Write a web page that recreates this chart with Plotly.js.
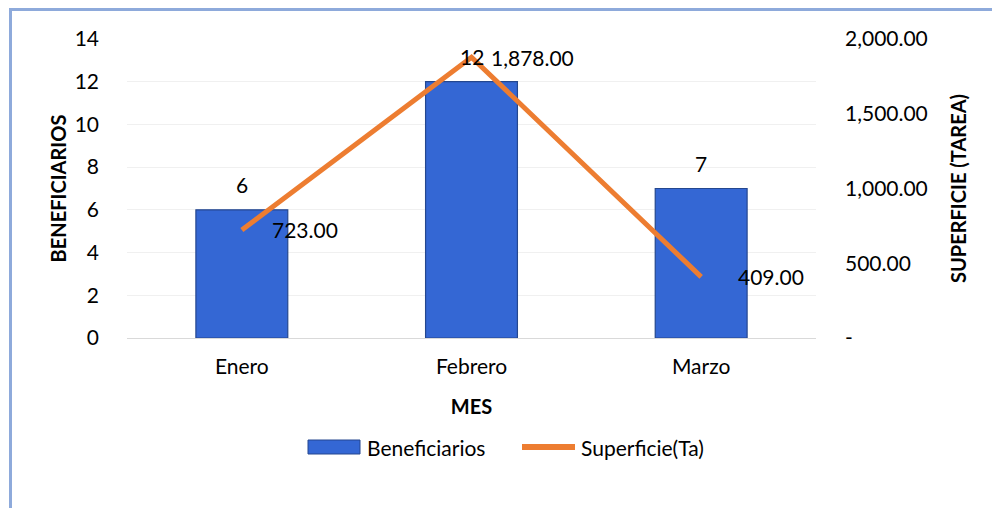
<!DOCTYPE html>
<html>
<head>
<meta charset="utf-8">
<script src="https://cdn.plot.ly/plotly-3.0.1.min.js"></script>
<style>
  html, body { margin: 0; padding: 0; background: #ffffff; }
  #wrap { position: relative; width: 992px; height: 508px; overflow: hidden; }
  #chart { width: 992px; height: 508px; }
  #frame { position: absolute; left: 9px; top: 8px; width: 1000px; height: 520px;
           border: 3px solid #8eaadb; box-sizing: border-box; pointer-events: none; }
</style>
</head>
<body>
<div id="wrap">
  <div id="chart"></div>
  <div id="frame"></div>
</div>
<script>
const months = ["Enero", "Febrero", "Marzo"];
const beneficiarios = [6, 12, 7];
const superficie = [723, 1878, 409];
const leftTicks = [0, 2, 4, 6, 8, 10, 12, 14];
const rightTicks = [0, 500, 1000, 1500, 2000];
const rightTickText = ["-", "500.00", "1,000.00", "1,500.00", "2,000.00"];
const seriesNames = ["Beneficiarios", "Superficie(Ta)"];

const FONT = "Lato, 'Open Sans', sans-serif";
const BAR_COLOR = "#3467d4";
const LINE_COLOR = "#ed7d31";

// plot-area geometry (pixels)
const L = 127, R = 176, T = 39, B = 170, W = 992, H = 508;
const PW = W - L - R, PH = H - T - B;
const px = v => (v - L) / PW;
const py = v => (T + PH - v) / PH;

function fmt(v) {
  return v.toLocaleString("en-US", {minimumFractionDigits: 2, maximumFractionDigits: 2});
}

const barTrace = {
  type: "bar",
  name: seriesNames[0],
  x: months,
  y: beneficiarios,
  width: 0.4,
  marker: { color: BAR_COLOR, line: { color: "#24478f", width: 1.2 } },
  showlegend: false
};

const lineTrace = {
  type: "scatter",
  mode: "lines",
  name: seriesNames[1],
  x: months,
  y: superficie,
  yaxis: "y2",
  line: { color: LINE_COLOR, width: 5 },
  showlegend: false
};

const annotations = [];
const lineShift = [28, 17, 35];
months.forEach((m, i) => {
  annotations.push({
    x: m, y: beneficiarios[i], xref: "x", yref: "y",
    text: String(beneficiarios[i]), showarrow: false,
    yshift: 25, font: { family: FONT, size: 21, color: "#000" }
  });
  annotations.push({
    x: m, y: superficie[i], xref: "x", yref: "y2",
    text: fmt(superficie[i]), showarrow: false,
    xanchor: "left", xshift: lineShift[i], yshift: 0,
    font: { family: FONT, size: 21, color: "#000" }
  });
});

// custom legend
annotations.push({
  xref: "paper", yref: "paper", x: px(365), y: py(447), xanchor: "left", yanchor: "middle",
  text: seriesNames[0], showarrow: false, font: { family: FONT, size: 21, color: "#000" }
});
annotations.push({
  xref: "paper", yref: "paper", x: px(579), y: py(447), xanchor: "left", yanchor: "middle",
  text: seriesNames[1], showarrow: false, font: { family: FONT, size: 21, color: "#000" }
});
const shapes = [
  { type: "rect", xref: "paper", yref: "paper", x0: px(308), x1: px(360), y0: py(454), y1: py(440),
    fillcolor: BAR_COLOR, line: { color: "#24478f", width: 1 } },
  { type: "line", xref: "paper", yref: "paper", x0: px(522), x1: px(575), y0: py(447), y1: py(447),
    line: { color: LINE_COLOR, width: 6 } }
];

const layout = {
  width: W, height: H,
  margin: { l: L, r: R, t: T, b: B },
  paper_bgcolor: "#ffffff",
  plot_bgcolor: "#ffffff",
  font: { family: FONT, size: 21, color: "#000" },
  showlegend: false,
  xaxis: {
    type: "category",
    showgrid: false,
    showline: true, linecolor: "#d9d9d9", linewidth: 1,
    ticks: "",
    ticklabelstandoff: 10,
    tickfont: { family: FONT, size: 21 },
    title: { text: "<b>MES</b>", font: { family: FONT, size: 20 }, standoff: 22 }
  },
  yaxis: {
    range: [0, 14],
    tickvals: leftTicks,
    showgrid: true, gridcolor: "#f0f0f0", gridwidth: 1,
    zeroline: false, showline: false, ticks: "",
    ticklabelstandoff: 27,
    tickfont: { family: FONT, size: 21 },
    title: { text: "<b>BENEFICIARIOS</b>", font: { family: FONT, size: 20 }, standoff: 2 }
  },
  yaxis2: {
    overlaying: "y", side: "right",
    range: [0, 2000],
    tickvals: rightTicks, ticktext: rightTickText,
    showgrid: false, zeroline: false, showline: false, ticks: "",
    ticklabelstandoff: 28,
    tickfont: { family: FONT, size: 21 },
    title: { text: "<b>SUPERFICIE (TAREA)</b>", font: { family: FONT, size: 20 }, standoff: 25 }
  },
  bargap: 0.6,
  annotations: annotations,
  shapes: shapes
};

Plotly.newPlot("chart", [barTrace, lineTrace], layout, { displayModeBar: false, staticPlot: true });
</script>
</body>
</html>
